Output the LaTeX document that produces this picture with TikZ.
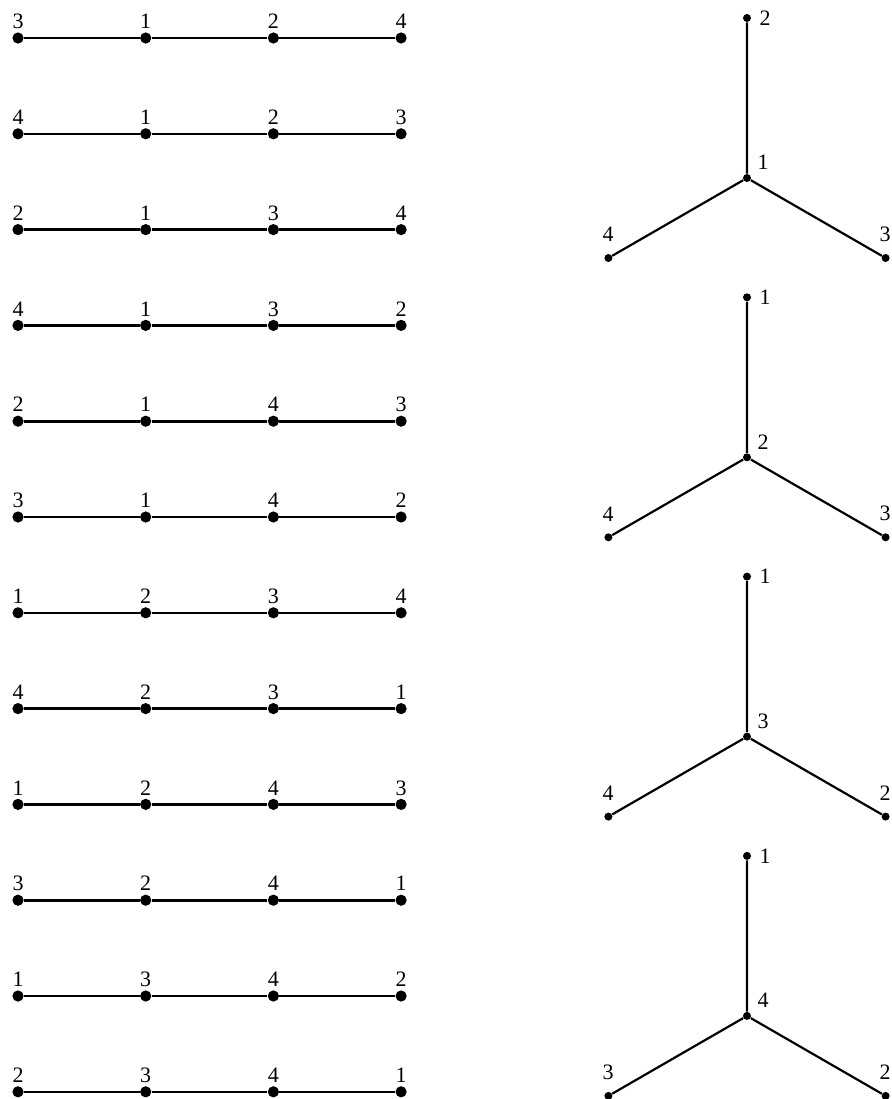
\documentclass[tikz,border=0pt]{standalone}
\usepackage{fontspec}
\setmainfont{Liberation Serif}

\tikzset{
  bigdot/.style={circle, fill, inner sep=0pt, minimum size=5.6pt},
  smalldot/.style={circle, fill, inner sep=0pt, minimum size=4pt},
  edge/.style={line width=1.3pt},
  num/.style={font=\fontsize{11}{13}\selectfont, inner sep=0pt}
}

\begin{document}
\begin{tikzpicture}[x=0.5pt, y=-0.5pt]
            \useasboundingbox (0,0) rectangle (891,1099);
            % Paths on the left:
                \foreach \a/\b/\c/\d [count=\r from 0] in {3/1/2/4, 4/1/2/3, 2/1/3/4, 4/1/3/2, 2/1/4/3, 3/1/4/2,
                                                           1/2/3/4, 4/2/3/1, 1/2/4/3, 3/2/4/1, 1/3/4/2, 2/3/4/1}{
                    \pgfmathsetmacro{\y}{38+95.8*\r}
                    \foreach \lab [count=\i from 0] in {\a,\b,\c,\d}{
                        \node[bigdot](p\r-\i) at ({18+127.7*\i}, \y){};
                        \node[num](lp\r-\i) at ({18+127.7*\i}, {\y-16.5}){\lab};
                    }
                    \draw[edge] (p\r-0) -- (p\r-1) -- (p\r-2) -- (p\r-3);
                }
            % Stars on the right:
                \foreach \t/\m/\l/\rt [count=\s from 0] in {2/1/4/3, 1/2/4/3, 1/3/4/2, 1/4/3/2}{
                    \pgfmathsetmacro{\y}{178+279.3*\s}
                    \node[smalldot](c\s) at (747, \y){};
                    \node[smalldot](t\s) at (747, {\y-160}){};
                    \node[smalldot](bl\s) at (608.4, {\y+80}){};
                    \node[smalldot](br\s) at (885.6, {\y+80}){};
                    \draw[edge, line width=1.1pt] (t\s) -- (c\s) (bl\s) -- (c\s) -- (br\s);
                    \node[num](lc\s) at (763, {\y-15.5}){\m};
                    \node[num](lt\s) at (765, {\y-160}){\t};
                    \node[num](lbl\s) at (608, {\y+56.5}){\l};
                    \node[num](lbr\s) at (885, {\y+56.5}){\rt};
                }
            \end{tikzpicture}
\end{document}
